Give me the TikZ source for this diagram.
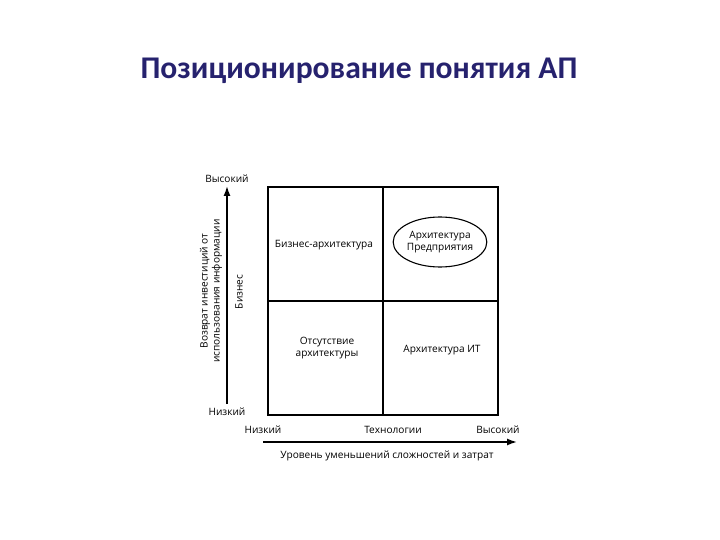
\documentclass[tikz,border=0pt]{standalone}
\usepackage{fontspec}
\setmainfont{Open Sans}
\newfontfamily\titlefont{Carlito}
\usetikzlibrary{arrows.meta,shapes.geometric}
\definecolor{titleblue}{RGB}{38,34,110}
\begin{document}
\begin{tikzpicture}[x=1pt,y=-1pt,
  lbl/.style={font=\fontsize{10.1}{11.8}\selectfont, align=center, inner sep=0pt},
  axis/.style={line width=1.5pt, -{Latex[length=10pt,width=7pt]}},
  grid/.style={line width=1.1pt}]
\useasboundingbox (0,0) rectangle (720,540);
\node[font=\titlefont\bfseries\fontsize{31.6}{36}\selectfont, text=titleblue] (title) at (359,71) {Позиционирование понятия АП};
% box
\draw[grid] (268,187) rectangle (498,415);
\draw[grid] (383,187) -- (383,415);
\draw[grid] (268,301) -- (498,301);
% quadrant texts
\node[lbl] (ba) at (324,245) {Бизнес-архитектура};
\node[lbl, draw, ellipse, line width=1.1pt, minimum width=88pt, minimum height=50pt, inner sep=0pt] (ap) at (440,242) {Архитектура\\Предприятия};
\node[lbl] (no) at (327,348) {Отсутствие\\архитектуры};
\node[lbl] (it) at (442,350) {Архитектура ИТ};
% vertical axis
\node[lbl] (vhigh) at (227,179) {Высокий};
\node[lbl] (vlow) at (227,412) {Низкий};
\coordinate (vs) at (227,404);
\coordinate (ve) at (227,186);
\draw[axis] (vs) -- (ve);
\node[lbl, rotate=90] (vret) at (211,291) {Возврат инвестиций от\\использования информации};
\node[lbl, rotate=90] (vbiz) at (239,292) {Бизнес};
% horizontal axis
\node[lbl] (hlow) at (263,430) {Низкий};
\node[lbl] (htech) at (393,430) {Технологии};
\node[lbl] (hhigh) at (498,430) {Высокий};
\coordinate (hs) at (263,442);
\coordinate (he) at (517,442);
\draw[axis] (hs) -- (he);
\node[lbl] (hcap) at (387,456) {Уровень уменьшений сложностей и затрат};
\end{tikzpicture}
\end{document}
